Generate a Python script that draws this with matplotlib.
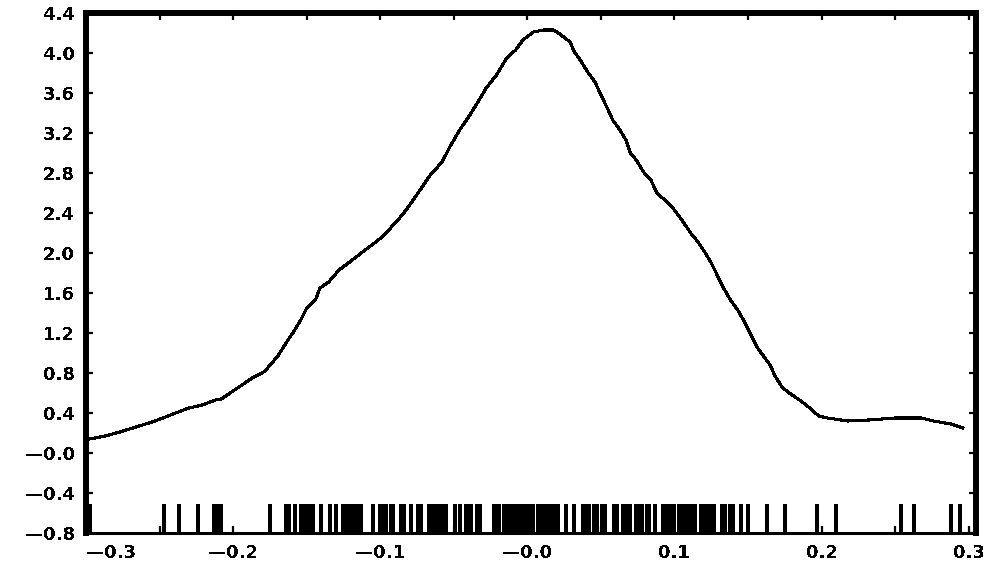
import matplotlib
matplotlib.use("Agg")
import matplotlib.pyplot as plt
from matplotlib.ticker import FixedLocator, FixedFormatter

# density curve
curve_x = [-0.300, -0.2985, -0.287, -0.277, -0.266, -0.255, -0.246, -0.239, -0.230,
           -0.221, -0.212, -0.208, -0.201, -0.194, -0.187, -0.178, -0.175, -0.170,
           -0.164, -0.159, -0.154, -0.150, -0.144, -0.141, -0.135, -0.128, -0.119,
           -0.112, -0.103, -0.098, -0.093, -0.085, -0.079, -0.072, -0.066, -0.058,
           -0.052, -0.046, -0.040, -0.034, -0.028, -0.021, -0.014, -0.008, -0.003,
           0.004, 0.011, 0.018, 0.023, 0.029, 0.032, 0.036, 0.041, 0.046, 0.050,
           0.054, 0.058, 0.063, 0.067, 0.070, 0.074, 0.079, 0.084, 0.088, 0.095,
           0.100, 0.105, 0.111, 0.116, 0.121, 0.125, 0.129, 0.133, 0.138, 0.143,
           0.148, 0.151, 0.156, 0.160, 0.165, 0.168, 0.173, 0.178, 0.185, 0.192,
           0.198, 0.204, 0.218, 0.232, 0.250, 0.268, 0.276, 0.288, 0.296]
curve_y = [0.13, 0.137, 0.17, 0.21, 0.26, 0.31, 0.36, 0.40, 0.45,
           0.48, 0.53, 0.54, 0.61, 0.68, 0.75, 0.82, 0.88, 0.96,
           1.10, 1.21, 1.33, 1.45, 1.53, 1.65, 1.71, 1.83, 1.93,
           2.01, 2.11, 2.17, 2.25, 2.38, 2.50, 2.65, 2.78, 2.91,
           3.08, 3.23, 3.36, 3.50, 3.65, 3.78, 3.95, 4.03, 4.13,
           4.21, 4.23, 4.23, 4.18, 4.11, 4.01, 3.93, 3.81, 3.71, 3.58,
           3.46, 3.33, 3.23, 3.13, 3.00, 2.93, 2.81, 2.73, 2.60, 2.51,
           2.43, 2.33, 2.20, 2.11, 2.00, 1.90, 1.78, 1.66, 1.53, 1.43,
           1.30, 1.21, 1.06, 0.98, 0.88, 0.78, 0.66, 0.60, 0.53, 0.45,
           0.37, 0.35, 0.32, 0.33, 0.35, 0.35, 0.32, 0.29, 0.25]

# rug of observations
rug = [-0.297, -0.247, -0.237, -0.224, -0.213, -0.210, -0.208, -0.175, -0.164,
       -0.162, -0.158, -0.154, -0.152, -0.150, -0.148, -0.146, -0.140, -0.134,
       -0.130, -0.125, -0.123, -0.121, -0.119, -0.117, -0.115, -0.113, -0.105,
       -0.100, -0.098, -0.096, -0.093, -0.091, -0.086, -0.084, -0.079, -0.074,
       -0.072, -0.067, -0.065, -0.063, -0.061, -0.059, -0.057, -0.055, -0.049,
       -0.046, -0.042, -0.040, -0.038, -0.034, -0.032, -0.023, -0.021, -0.019,
       -0.016, -0.014, -0.012, -0.010, -0.008, -0.006, -0.004, -0.002, 0.000,
       0.002, 0.004, 0.007, 0.009, 0.011, 0.013, 0.015, 0.017, 0.019, 0.021,
       0.026, 0.032, 0.038, 0.040, 0.042, 0.045, 0.047, 0.051, 0.053, 0.059,
       0.061, 0.065, 0.067, 0.070, 0.074, 0.076, 0.078, 0.081, 0.083, 0.087,
       0.092, 0.094, 0.096, 0.098, 0.100, 0.103, 0.105, 0.107, 0.110, 0.112,
       0.114, 0.118, 0.120, 0.122, 0.123, 0.125, 0.127, 0.132, 0.134, 0.138,
       0.140, 0.145, 0.150, 0.163, 0.175, 0.197, 0.210, 0.254, 0.263, 0.288,
       0.294]

x_ticks = [-0.3, -0.25, -0.2, -0.15, -0.1, -0.05, 0.0, 0.05, 0.1, 0.15, 0.2, 0.25, 0.3]
x_labels = ["\u20140.3", "", "\u20140.2", "", "\u20140.1", "", "\u20140.0", "",
            "0.1", "", "0.2", "", "0.3"]
y_ticks = [-0.8, -0.4, 0.0, 0.4, 0.8, 1.2, 1.6, 2.0, 2.4, 2.8, 3.2, 3.6, 4.0, 4.4]
y_labels = ["\u20140.8", "\u20140.4", "\u20140.0", "0.4", "0.8", "1.2", "1.6", "2.0",
            "2.4", "2.8", "3.2", "3.6", "4.0", "4.4"]

plt.rcParams["font.family"] = "DejaVu Sans"
plt.rcParams["font.weight"] = "bold"
plt.rcParams["text.antialiased"] = False

fig = plt.figure(figsize=(9.95, 5.67), dpi=100)
ax = fig.add_axes([0.0864, 0.060, 0.8946, 0.917])

ax.plot(curve_x, curve_y, color="black", lw=1.5, antialiased=False)
ax.vlines(rug, -0.8, -0.51, color="black", lw=1.6, antialiased=False)

ax.set_xlim(-0.30, 0.305)
ax.set_ylim(-0.8, 4.4)

ax.xaxis.set_major_locator(FixedLocator(x_ticks))
ax.xaxis.set_major_formatter(FixedFormatter(x_labels))
ax.yaxis.set_major_locator(FixedLocator(y_ticks))
ax.yaxis.set_major_formatter(FixedFormatter(y_labels))

ax.tick_params(direction="in", length=5, width=1.6, top=True, right=True,
               labelsize=13, pad=8, colors="black")
for lab in ax.get_xticklabels():
    lab.set_fontweight("bold")
for lab in ax.get_yticklabels():
    lab.set_fontweight("bold")
ax.get_xticklabels()[0].set_horizontalalignment("left")

for side in ["left", "right", "top"]:
    ax.spines[side].set_linewidth(4.3)
ax.spines["bottom"].set_linewidth(2.2)

fig.savefig("out.png", dpi=100)
